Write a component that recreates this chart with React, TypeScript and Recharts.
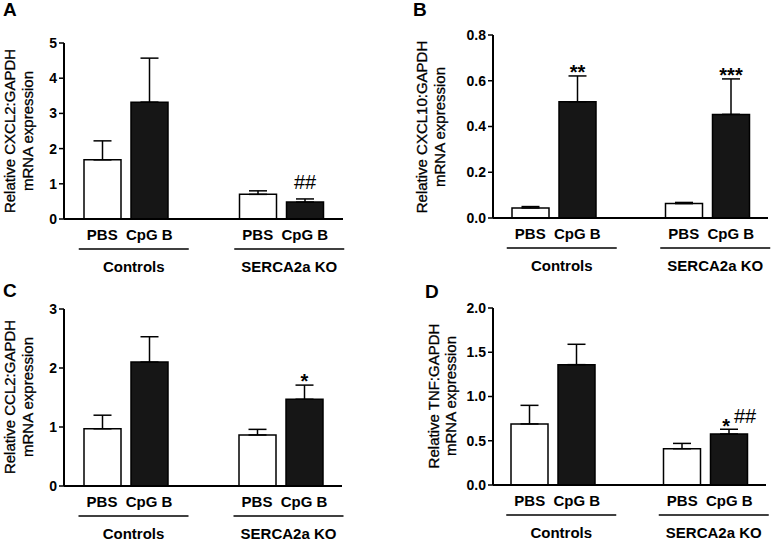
import React from 'react';
import { BarChart, Bar, XAxis, YAxis, ErrorBar, LabelList } from 'recharts';

const FONT = '"Liberation Sans", Arial, Helvetica, sans-serif';

const groups = ['Controls', 'SERCA2a KO'];
const treatments = ['PBS', 'CpG B'];

// A - CXCL2
const cxcl2Pbs = [1.68, 0.7];
const cxcl2PbsSem = [0.54, 0.1];
const cxcl2Cpg = [3.32, 0.48];
const cxcl2CpgSem = [1.25, 0.09];
const cxcl2Sig = ['', '##'];
const cxcl2Ticks = [0, 1, 2, 3, 4, 5];

// B - CXCL10
const cxcl10Pbs = [0.044, 0.063];
const cxcl10PbsSem = [0.006, 0.005];
const cxcl10Cpg = [0.508, 0.453];
const cxcl10CpgSem = [0.113, 0.155];
const cxcl10Sig = ['**', '***'];
const cxcl10Ticks = [0, 0.2, 0.4, 0.6, 0.8];

// C - CCL2
const ccl2Pbs = [0.97, 0.865];
const ccl2PbsSem = [0.23, 0.095];
const ccl2Cpg = [2.1, 1.47];
const ccl2CpgSem = [0.43, 0.24];
const ccl2Sig = ['', '*'];
const ccl2Ticks = [0, 1, 2, 3];

// D - TNF
const tnfPbs = [0.69, 0.41];
const tnfPbsSem = [0.21, 0.06];
const tnfCpg = [1.36, 0.576];
const tnfCpgSem = [0.23, 0.054];
const tnfSig = ['', '* ##'];
const tnfTicks = [0, 0.5, 1, 1.5, 2];

const BAR = 37;
const GAP = 10;

const makeRows = (pbs: number[], pbsSem: number[], cpg: number[], cpgSem: number[], sig: string[]) =>
  groups.map((group, i) => ({
    group,
    pbs: pbs[i],
    pbsErr: [0, pbsSem[i]],
    cpg: cpg[i],
    cpgErr: [0, cpgSem[i]],
    sig: sig[i],
  }));

const GroupTick = ({ x, y, payload }: any) => (
  <g fontFamily={FONT} fontWeight="bold" fontSize={15} fill="#000">
    {treatments.map((t, i) => (
      <text key={t} x={x + (i - 0.5) * (BAR + GAP)} y={y + 21} textAnchor="middle">
        {t}
      </text>
    ))}
    <line x1={x + 8 - 55} x2={x + 8 + 55} y1={y + 30} y2={y + 30} stroke="#000" strokeWidth={1.5} />
    <text x={x + 8} y={y + 53} textAnchor="middle">
      {payload.value}
    </text>
  </g>
);

const makeSigLabel = (rows: any[]) => (props: any) => {
  const row = rows[props.index];
  if (!row || !row.sig) return null;
  const vb = props.viewBox || props;
  const { x, y, width } = vb;
  const h = Math.abs(vb.height);
  const errTop = y - (row.cpgErr[1] * h) / row.cpg;
  const cx = x + width / 2;
  const parts = row.sig.split(' ');
  const stars = parts.find((p: string) => p.startsWith('*'));
  const hashes = parts.find((p: string) => p.startsWith('#'));
  if (stars && hashes) {
    return (
      <g fontFamily={FONT} fill="#000">
        <text x={cx + 1} y={errTop + 4} textAnchor="end" fontSize={20} fontWeight="bold">{stars}</text>
        <text x={cx + 5} y={errTop - 6} textAnchor="start" fontSize={20}>{hashes}</text>
      </g>
    );
  }
  if (stars) {
    return (
      <text x={cx} y={errTop + 3} textAnchor="middle" fontFamily={FONT} fontSize={20} fontWeight="bold" fill="#000">
        {stars}
      </text>
    );
  }
  return (
    <text x={cx} y={errTop - 10} textAnchor="middle" fontFamily={FONT} fontSize={20} fill="#000">
      {hashes}
    </text>
  );
};

type PanelProps = {
  letter: string;
  left: number;
  top: number;
  width: number;
  height: number;
  plotTop: number;
  plotLeft: number;
  plotRight: number;
  plotBottom: number;
  ticks: number[];
  decimals: number;
  yLabel: string[];
  labelX: [number, number];
  labelCy: number;
  letterX: number;
  letterY: number;
  rows: any[];
};

const Panel = (p: PanelProps) => {
  const max = p.ticks[p.ticks.length - 1];
  return (
    <div style={{ position: 'absolute', left: p.left, top: p.top, width: p.width, height: p.height }}>
      <BarChart
        width={p.width}
        height={p.height}
        data={p.rows}
        barGap={GAP}
        margin={{ top: p.plotTop, right: p.width - p.plotRight, bottom: 0, left: 0 }}
      >
        <XAxis
          dataKey="group"
          type="category"
          height={p.height - p.plotBottom}
          padding={{ left: -16, right: -16 }}
          axisLine={{ stroke: '#000', strokeWidth: 2 }}
          tickLine={false}
          tickSize={0}
          tickMargin={0}
          interval={0}
          tick={<GroupTick />}
        />
        <YAxis
          type="number"
          domain={[0, max]}
          ticks={p.ticks}
          width={p.plotLeft}
          allowDataOverflow
          axisLine={{ stroke: '#000', strokeWidth: 2 }}
          tickLine={{ stroke: '#000', strokeWidth: 1.5 }}
          tickSize={5}
          tickMargin={2}
          tick={{ fill: '#000', fontSize: 14, fontWeight: 'bold', fontFamily: FONT }}
          tickFormatter={(v: number) => v.toFixed(p.decimals)}
        />
        <Bar dataKey="pbs" fill="#ffffff" stroke="#000" strokeWidth={1.5} barSize={BAR} isAnimationActive={false}>
          <ErrorBar dataKey="pbsErr" direction="y" width={9} stroke="#000" strokeWidth={1.5} isAnimationActive={false} />
        </Bar>
        <Bar dataKey="cpg" fill="#161616" stroke="#000" strokeWidth={1.5} barSize={BAR} isAnimationActive={false}>
          <ErrorBar dataKey="cpgErr" direction="y" width={9} stroke="#000" strokeWidth={1.5} isAnimationActive={false} />
          <LabelList dataKey="sig" content={makeSigLabel(p.rows)} />
        </Bar>
      </BarChart>
      <svg
        width={p.width}
        height={p.height}
        style={{ position: 'absolute', left: 0, top: 0, pointerEvents: 'none' }}
        fontFamily={FONT}
      >
        <text x={p.letterX} y={p.letterY} fontSize={19} fontWeight="bold" fill="#000">
          {p.letter}
        </text>
        {p.yLabel.map((line, i) => (
          <text
            key={line}
            x={p.labelX[i]}
            y={p.labelCy}
            transform={`rotate(-90 ${p.labelX[i]} ${p.labelCy})`}
            textAnchor="middle"
            fontSize={15}
            fill="#000"
            stroke="#000"
            strokeWidth={0.3}
          >
            {line}
          </text>
        ))}
      </svg>
    </div>
  );
};

export default function App() {
  return (
    <div style={{ position: 'absolute', left: 0, top: 0, width: 772, height: 549, background: '#fff' }}>
      <Panel
        letter="A"
        left={0}
        top={0}
        width={386}
        height={275}
        plotTop={43}
        plotLeft={64}
        plotRight={343}
        plotBottom={219}
        ticks={cxcl2Ticks}
        decimals={0}
        yLabel={['Relative CXCL2:GAPDH', 'mRNA expression']}
        labelX={[15, 33]}
        labelCy={131}
        letterX={3}
        letterY={16}
        rows={makeRows(cxcl2Pbs, cxcl2PbsSem, cxcl2Cpg, cxcl2CpgSem, cxcl2Sig)}
      />
      <Panel
        letter="B"
        left={386}
        top={0}
        width={386}
        height={275}
        plotTop={35}
        plotLeft={107}
        plotRight={382}
        plotBottom={218}
        ticks={cxcl10Ticks}
        decimals={1}
        yLabel={['Relative CXCL10:GAPDH', 'mRNA expression']}
        labelX={[41, 59]}
        labelCy={127}
        letterX={27}
        letterY={16}
        rows={makeRows(cxcl10Pbs, cxcl10PbsSem, cxcl10Cpg, cxcl10CpgSem, cxcl10Sig)}
      />
      <Panel
        letter="C"
        left={0}
        top={275}
        width={386}
        height={274}
        plotTop={34}
        plotLeft={64}
        plotRight={342}
        plotBottom={211}
        ticks={ccl2Ticks}
        decimals={0}
        yLabel={['Relative CCL2:GAPDH', 'mRNA expression']}
        labelX={[15, 33]}
        labelCy={122}
        letterX={3}
        letterY={22}
        rows={makeRows(ccl2Pbs, ccl2PbsSem, ccl2Cpg, ccl2CpgSem, ccl2Sig)}
      />
      <Panel
        letter="D"
        left={386}
        top={275}
        width={386}
        height={274}
        plotTop={33}
        plotLeft={107}
        plotRight={380}
        plotBottom={210}
        ticks={tnfTicks}
        decimals={1}
        yLabel={['Relative TNF:GAPDH', 'mRNA expression']}
        labelX={[53, 70]}
        labelCy={121}
        letterX={39}
        letterY={23}
        rows={makeRows(tnfPbs, tnfPbsSem, tnfCpg, tnfCpgSem, tnfSig)}
      />
    </div>
  );
}
